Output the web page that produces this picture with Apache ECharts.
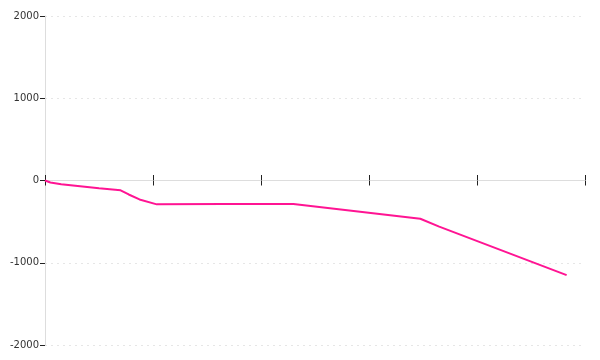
<!DOCTYPE html>
<html><head><meta charset="utf-8">
<script src="https://cdn.jsdelivr.net/npm/echarts@6/dist/echarts.min.js"></script>
<style>html,body{margin:0;padding:0;background:#fff}#c{width:600px;height:360px}</style>
</head><body><div id="c"></div>
<script>
const xValues = [0, 1, 3, 10, 14, 15.5, 17.5, 20.7, 33, 46, 69.5, 73, 96.6];
const yValues = [0, -25, -45, -95, -120, -170, -230, -290, -285, -285, -465, -560, -1150];
const yTicks = [-2000, -1000, 0, 1000, 2000];

const chart = echarts.init(document.getElementById('c'), null, {renderer: 'canvas'});
const font = 'DejaVu Sans';
const xBase = {
  type: 'value', min: 0, max: 100, interval: 20, position: 'bottom',
  axisLabel: {show: false},
  splitLine: {show: false}
};
chart.setOption({
  animation: false,
  grid: [
    {left: 45, right: 15, top: 16, bottom: 15},
    {left: 45, right: 15, top: 16, bottom: 180}
  ],
  xAxis: [
    Object.assign({}, xBase, {gridIndex: 0,
      axisLine: {show: true, onZero: true, lineStyle: {color: '#dddddd', width: 1}},
      axisTick: {show: true, inside: false, length: 5, lineStyle: {color: '#222'}}}),
    Object.assign({}, xBase, {gridIndex: 1,
      axisLine: {show: false},
      axisTick: {show: true, inside: true, length: 5, lineStyle: {color: '#222'}}})
  ],
  yAxis: [{
    gridIndex: 0,
    type: 'value', min: yTicks[0], max: yTicks[yTicks.length - 1], interval: 1000,
    axisLine: {show: true, lineStyle: {color: '#dddddd'}},
    axisTick: {show: true, length: 5, lineStyle: {color: '#222'}},
    axisLabel: {color: '#333', fontFamily: font, fontSize: 10, margin: 6, formatter: v => String(v)},
    splitLine: {show: true, lineStyle: {color: '#e6e6e6', type: [2, 4]}}
  }, {
    gridIndex: 1, type: 'value', min: 0, max: 1, show: false
  }],
  series: [{
    type: 'line',
    xAxisIndex: 0, yAxisIndex: 0,
    data: xValues.map((x, i) => [x, yValues[i]]),
    showSymbol: false,
    lineStyle: {color: '#ff1493', width: 2},
    itemStyle: {color: '#ff1493'}
  }]
});
</script></body></html>
